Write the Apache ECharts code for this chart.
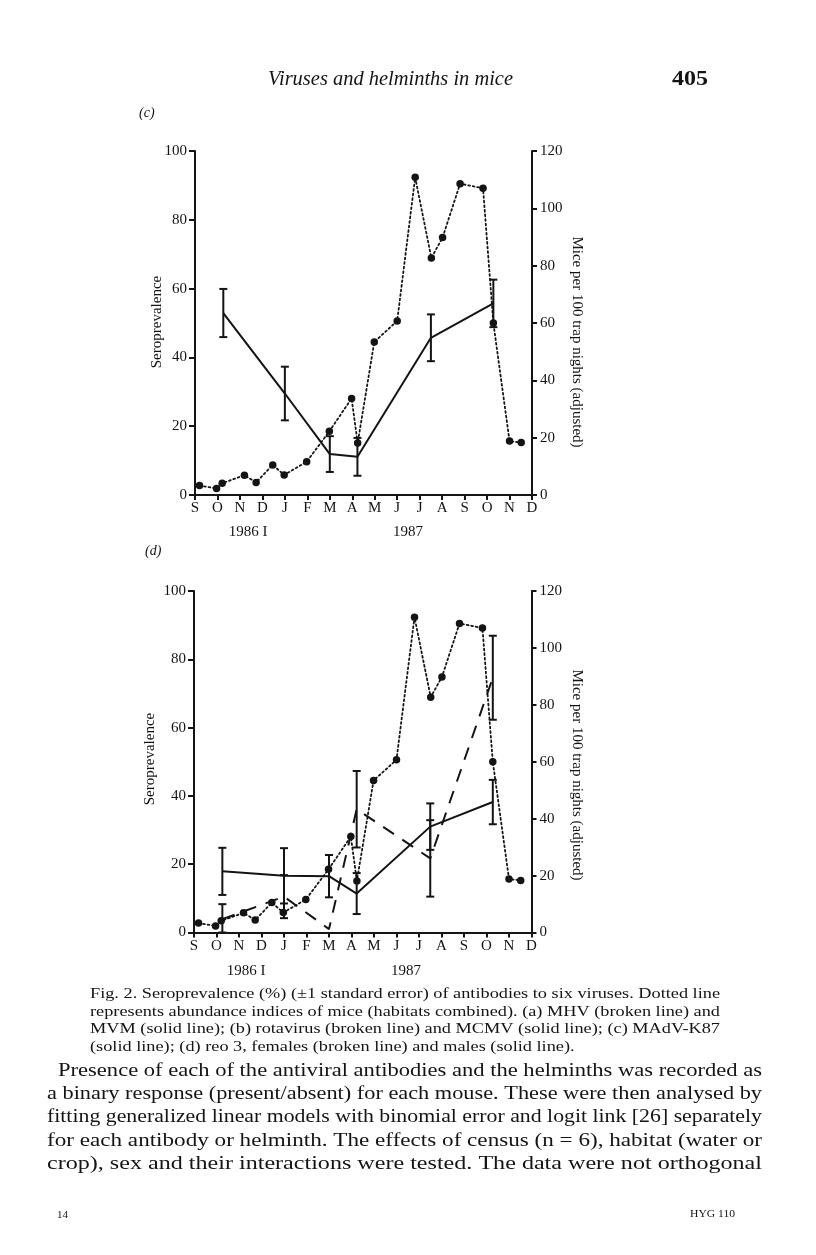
<!DOCTYPE html>
<html><head><meta charset="utf-8">
<script src="https://cdn.jsdelivr.net/npm/echarts@6/dist/echarts.min.js"></script>
<style>html,body{margin:0;padding:0;background:#fff;}#main{width:816px;height:1255px;}</style>
</head><body><div id="main"></div>
<script>
// ---------- data ----------
const monthLabels = ['S','O','N','D','J','F','M','A','M','J','J','A','S','O','N','D'];
const yearLabels = ['1986 I', '1987'];
// abundance of mice (per 100 trap nights, adjusted); x = months since Sept 1986
const abundanceX = [0.2, 0.96, 1.21, 2.2, 2.72, 3.46, 3.97, 4.97, 5.98, 6.97, 7.24, 7.98, 9.0, 9.8, 10.52, 11.02, 11.8, 12.82, 13.28, 14.0, 14.52];
const abundanceY = [3.3, 2.3, 4.1, 6.9, 4.4, 10.5, 7.0, 11.6, 22.2, 33.7, 18.1, 53.4, 60.7, 110.8, 82.7, 89.8, 108.6, 107.0, 60.0, 18.8, 18.3];
// census times
const censusX = [1.26, 4.0, 6.0, 7.23, 10.5, 13.28];
// (c) MAdV-K87 seroprevalence (%) and standard error
const madvMean = [52.9, 29.5, 11.9, 11.1, 45.7, 55.7];
const madvSE   = [7.0, 7.8, 5.2, 5.5, 6.8, 6.9];
// (d) reo 3 males (solid) and females (broken)
const maleMean   = [17.9, 16.6, 16.5, 11.4, 31.0, 38.2];
const maleSE     = [6.9, 8.1, 6.2, 6.0, 6.8, 6.5];
const femaleMean = [3.9, 10.5, 1.0, 36.1, 21.7, 74.6];
const femaleSE   = [4.4, 6.3, 0, 11.2, 11.2, 12.3];

const leftTicks = [0, 20, 40, 60, 80, 100];
const rightTicks = [0, 20, 40, 60, 80, 100, 120];

// ---------- helpers ----------
const INK = '#141414';
const SERIF = "'Liberation Serif','DejaVu Serif',serif";
const mctx = document.createElement('canvas').getContext('2d');
function measure(t, font) { mctx.font = font; return mctx.measureText(t).width; }

function pts(xs, ys) { return xs.map((x, i) => [x, ys[i]]); }

function errorBars(xi, yi, xs, means, ses) {
  const data = [];
  xs.forEach((x, i) => { if (ses[i] > 0) data.push([x, Math.max(0, means[i] - ses[i]), means[i] + ses[i]]); });
  return {
    type: 'custom', xAxisIndex: xi, yAxisIndex: yi, data, z: 4, silent: true,
    encode: { x: 0, y: [1, 2] },
    renderItem(params, api) {
      const x = api.value(0);
      const lo = api.coord([x, api.value(1)]);
      const hi = api.coord([x, api.value(2)]);
      const hw = 4;
      const st = { stroke: INK, lineWidth: 2, fill: null };
      return { type: 'group', children: [
        { type: 'line', shape: { x1: lo[0], y1: lo[1], x2: hi[0], y2: hi[1] }, style: st },
        { type: 'line', shape: { x1: lo[0] - hw, y1: lo[1], x2: lo[0] + hw, y2: lo[1] }, style: st },
        { type: 'line', shape: { x1: hi[0] - hw, y1: hi[1], x2: hi[0] + hw, y2: hi[1] }, style: st }
      ] };
    }
  };
}

function xAxisFor(gi) {
  return {
    type: 'value', gridIndex: gi, min: 0, max: 15, interval: 1,
    axisLine: { show: true, onZero: false, lineStyle: { color: INK, width: 2 } },
    axisTick: { show: true, inside: false, length: 5, lineStyle: { color: INK, width: 2 } },
    axisLabel: { margin: 6, color: INK, fontFamily: SERIF, fontSize: 15, formatter: v => monthLabels[v] },
    splitLine: { show: false }
  };
}
function yLeft(gi) {
  return {
    type: 'value', gridIndex: gi, position: 'left', min: leftTicks[0], max: leftTicks[leftTicks.length - 1], interval: leftTicks[1] - leftTicks[0],
    axisLine: { show: true, onZero: false, lineStyle: { color: INK, width: 2 } },
    axisTick: { show: true, inside: false, length: 6, lineStyle: { color: INK, width: 2 } },
    axisLabel: { margin: 8, color: INK, fontFamily: SERIF, fontSize: 15 },
    splitLine: { show: false }
  };
}
function yRight(gi) {
  return {
    type: 'value', gridIndex: gi, position: 'right', min: rightTicks[0], max: rightTicks[rightTicks.length - 1], interval: rightTicks[1] - rightTicks[0],
    axisLine: { show: true, onZero: false, lineStyle: { color: INK, width: 2 } },
    axisTick: { show: true, inside: false, length: 5, lineStyle: { color: INK, width: 2 } },
    axisLabel: { margin: 8, color: INK, fontFamily: SERIF, fontSize: 15 },
    splitLine: { show: false }
  };
}

function abundanceSeries(xi, yi) {
  return {
    type: 'line', xAxisIndex: xi, yAxisIndex: yi, data: pts(abundanceX, abundanceY),
    symbol: 'circle', symbolSize: 7.5, itemStyle: { color: INK },
    lineStyle: { color: INK, width: 1.8, type: [1.8, 2.8], cap: 'round' }, z: 3, silent: true, animation: false
  };
}
function lineSeries(xi, yi, means, dashed) {
  return {
    type: 'line', xAxisIndex: xi, yAxisIndex: yi, data: pts(censusX, means),
    symbol: 'none', lineStyle: { color: INK, width: 2, type: dashed ? [13, 10] : 'solid' }, z: 3, silent: true, animation: false
  };
}

// ---------- text ----------
const graphics = [];
function text(t, x, y, o) {
  o = o || {};
  const font = o.font || ('15px ' + SERIF);
  let sx = o.scale || 1;
  if (o.width) sx = o.width / measure(t, font);
  graphics.push({
    type: 'text', x, y, rotation: o.rotation || 0, scaleX: sx, silent: true,
    style: { text: t, font, fill: INK, textAlign: o.align || 'left', textVerticalAlign: 'middle' }
  });
  return sx;
}

// page header
text('Viruses and helminths in mice', 268, 80, { font: 'italic 20px ' + SERIF, width: 245 });
text('405', 672, 80, { font: 'bold 21px ' + SERIF, width: 36 });
text('(c)', 139, 113, { font: 'italic 14px ' + SERIF });
text('(d)', 145, 551, { font: 'italic 14px ' + SERIF });

// axis titles
text('Seroprevalence', 157, 322, { rotation: Math.PI / 2, align: 'center', font: '15px ' + SERIF });
text('Mice per 100 trap nights (adjusted)', 577, 342, { rotation: -Math.PI / 2, align: 'center', font: '15px ' + SERIF });
text('Seroprevalence', 150, 759, { rotation: Math.PI / 2, align: 'center', font: '15px ' + SERIF });
text('Mice per 100 trap nights (adjusted)', 577, 775, { rotation: -Math.PI / 2, align: 'center', font: '15px ' + SERIF });

// year labels
text(yearLabels[0], 248, 532, { align: 'center', font: '15px ' + SERIF });
text(yearLabels[1], 408, 532, { align: 'center', font: '15px ' + SERIF });
text(yearLabels[0], 246, 971, { align: 'center', font: '15px ' + SERIF });
text(yearLabels[1], 406, 971, { align: 'center', font: '15px ' + SERIF });

// caption
const capFont = '14px ' + SERIF;
const caption = [
  'Fig. 2. Seroprevalence (%) (\u00b11 standard error) of antibodies to six viruses. Dotted line',
  'represents abundance indices of mice (habitats combined). (a) MHV (broken line) and',
  'MVM (solid line); (b) rotavirus (broken line) and MCMV (solid line); (c) MAdV-K87',
  '(solid line); (d) reo 3, females (broken line) and males (solid line).'
];
const capY = [994, 1012, 1029, 1047];
let capScale = 0;
for (let i = 0; i < 3; i++) capScale += text(caption[i], 90, capY[i], { font: capFont, width: 630 }) / 3;
text(caption[3], 90, capY[3], { font: capFont, scale: capScale });

// body paragraph
const bodyFont = '18px ' + SERIF;
const body = [
  'Presence of each of the antiviral antibodies and the helminths was recorded as',
  'a binary response (present/absent) for each mouse. These were then analysed by',
  'fitting generalized linear models with binomial error and logit link [26] separately',
  'for each antibody or helminth. The effects of census (n = 6), habitat (water or',
  'crop), sex and their interactions were tested. The data were not orthogonal'
];
const bodyY = [1071, 1094, 1117, 1141, 1164];
body.forEach((l, i) => text(l, i === 0 ? 58 : 47, bodyY[i], { font: bodyFont, width: i === 0 ? 704 : 715 }));

text('14', 57, 1215, { font: '11px ' + SERIF });
text('HYG 110', 690, 1214, { font: '11px ' + SERIF, width: 45 });

// ---------- chart ----------
const chart = echarts.init(document.getElementById('main'), null, { renderer: 'canvas' });
chart.setOption({
  backgroundColor: '#ffffff',
  animation: false,
  grid: [
    { left: 195, top: 151, width: 337, height: 344 },
    { left: 194, top: 591, width: 337.5, height: 341.5 }
  ],
  xAxis: [xAxisFor(0), xAxisFor(1)],
  yAxis: [yLeft(0), yRight(0), yLeft(1), yRight(1)],
  series: [
    abundanceSeries(0, 1),
    lineSeries(0, 0, madvMean, false),
    errorBars(0, 0, censusX, madvMean, madvSE),
    abundanceSeries(1, 3),
    lineSeries(1, 2, maleMean, false),
    lineSeries(1, 2, femaleMean, true),
    errorBars(1, 2, censusX, maleMean, maleSE),
    errorBars(1, 2, censusX, femaleMean, femaleSE)
  ],
  graphic: { elements: graphics }
});
</script></body></html>
